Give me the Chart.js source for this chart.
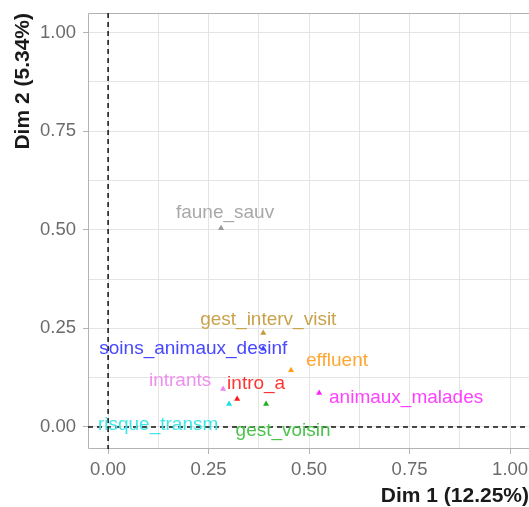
<!DOCTYPE html>
<html>
<head>
<meta charset="utf-8">
<script src="https://cdn.jsdelivr.net/npm/chart.js@4"></script>
<style>
  body { margin: 0; background: #fff; }
  #wrap { width: 529px; height: 507px; }
</style>
</head>
<body>
<div id="wrap"><canvas id="acm" width="529" height="507"></canvas></div>
<script>
// Variables (categories) and their coordinates on Dim 1 / Dim 2
var names = ['faune_sauv', 'gest_interv_visit', 'soins_animaux_desinf', 'effluent', 'intrants',
             'intro_a', 'risque_transm', 'gest_voisin', 'animaux_malades'];
var dim1 = [0.281, 0.386, 0.386, 0.455, 0.286, 0.321, 0.301, 0.393, 0.525];
var dim2 = [0.504, 0.238, 0.198, 0.144, 0.096, 0.071, 0.058, 0.058, 0.086];
var axisTicks = [0, 0.125, 0.25, 0.375, 0.5, 0.625, 0.75, 0.875, 1];

// styles
var pointColors = ['#9a9a9a', '#c29a38', '#3a3aff', '#ff9f1a', '#ee82ee', '#ff1a1a', '#1ae0e0', '#22b022', '#ff22ff'];
var labelColors = ['#a8a8a8', '#c9a24c', '#4848ff', '#ffa733', '#ef90ef', '#ff3535', '#40e6e6', '#4cc44c', '#ff40ff'];
// label centre offset from the point, in pixels
var labelShift = [[4, -15], [5, -13], [-70, 0], [46, -9], [-43, -8], [19, -15], [-71, 21], [17, 27], [87, 5]];

function isMajor(v) {
    return Math.abs(v * 4 - Math.round(v * 4)) < 1e-9;
}

// panel border (right side is cut off by the window) + dashed lines at 0
var frame = {
    id: 'frame',
    beforeDatasetsDraw: function (chart) {
        var ctx = chart.ctx, a = chart.chartArea;
        var x0 = chart.scales.x.getPixelForValue(0);
        var y0 = chart.scales.y.getPixelForValue(0);
        ctx.save();
        ctx.strokeStyle = '#b3b3b3';
        ctx.lineWidth = 1;
        ctx.beginPath();
        ctx.moveTo(a.right, a.top + 0.5);
        ctx.lineTo(a.left + 0.5, a.top + 0.5);
        ctx.lineTo(a.left + 0.5, a.bottom - 0.5);
        ctx.lineTo(a.right, a.bottom - 0.5);
        ctx.stroke();
        ctx.strokeStyle = '#111';
        ctx.lineWidth = 1.5;
        ctx.setLineDash([5, 4]);
        ctx.beginPath();
        ctx.moveTo(x0, a.top);
        ctx.lineTo(x0, a.bottom);
        ctx.moveTo(a.left, y0);
        ctx.lineTo(a.right, y0);
        ctx.stroke();
        ctx.restore();
    }
};

var pointLabels = {
    id: 'pointLabels',
    afterDatasetsDraw: function (chart) {
        var ctx = chart.ctx;
        var meta = chart.getDatasetMeta(0);
        ctx.save();
        ctx.font = '19px "Liberation Sans", Arial, sans-serif';
        ctx.textAlign = 'center';
        ctx.textBaseline = 'middle';
        meta.data.forEach(function (el, i) {
            ctx.fillStyle = labelColors[i];
            ctx.fillText(names[i], el.x + labelShift[i][0], el.y + labelShift[i][1]);
        });
        ctx.restore();
    }
};

var tickFont = { family: '"Liberation Sans", Arial, sans-serif', size: 18.5 };
var titleFont = { family: '"Liberation Sans", Arial, sans-serif', size: 21, weight: 'bold', lineHeight: 1 };

new Chart(document.getElementById('acm'), {
    type: 'scatter',
    data: {
        datasets: [{
            data: dim1.map(function (v, i) { return { x: v, y: dim2[i] }; }),
            pointStyle: 'triangle',
            pointRadius: 3.5,
            pointBorderWidth: 0,
            backgroundColor: pointColors,
            borderColor: pointColors
        }]
    },
    options: {
        responsive: false,
        animation: false,
        layout: { autoPadding: false, padding: { top: 13, right: 0, left: 0, bottom: 0 } },
        plugins: {
            legend: { display: false },
            tooltip: { enabled: false }
        },
        scales: {
            x: {
                type: 'linear',
                min: -0.05,
                max: 1.047,
                afterBuildTicks: function (s) { s.ticks = axisTicks.map(function (v) { return { value: v }; }); },
                afterFit: function (s) { s.height = 58; s.paddingLeft = 0; s.paddingRight = 0; },
                border: { display: false },
                grid: {
                    color: '#e4e4e4',
                    tickLength: 5,
                    tickColor: function (c) { return isMajor(c.tick.value) ? '#b3b3b3' : 'rgba(0,0,0,0)'; }
                },
                ticks: {
                    autoSkip: false,
                    maxRotation: 0,
                    padding: 5,
                    color: '#6b6b6b',
                    font: tickFont,
                    callback: function (v) { return isMajor(v) ? v.toFixed(2) : ''; }
                },
                title: {
                    display: true,
                    text: 'Dim 1 (12.25%)',
                    align: 'end',
                    color: '#1a1a1a',
                    font: titleFont,
                    padding: 0
                }
            },
            y: {
                type: 'linear',
                min: -0.056,
                max: 1.05,
                afterBuildTicks: function (s) { s.ticks = axisTicks.map(function (v) { return { value: v }; }); },
                afterFit: function (s) { s.width = 88; s.paddingTop = 0; s.paddingBottom = 0; },
                border: { display: false },
                grid: {
                    color: '#e4e4e4',
                    tickLength: 5,
                    tickColor: function (c) { return isMajor(c.tick.value) ? '#b3b3b3' : 'rgba(0,0,0,0)'; }
                },
                ticks: {
                    autoSkip: false,
                    padding: 7,
                    color: '#6b6b6b',
                    font: tickFont,
                    callback: function (v) { return isMajor(v) ? v.toFixed(2) : ''; }
                },
                title: {
                    display: true,
                    text: 'Dim 2 (5.34%)',
                    align: 'end',
                    color: '#1a1a1a',
                    font: titleFont,
                    padding: { top: 12.5, bottom: 0 }
                }
            }
        }
    },
    plugins: [frame, pointLabels]
});
</script>
</body>
</html>
